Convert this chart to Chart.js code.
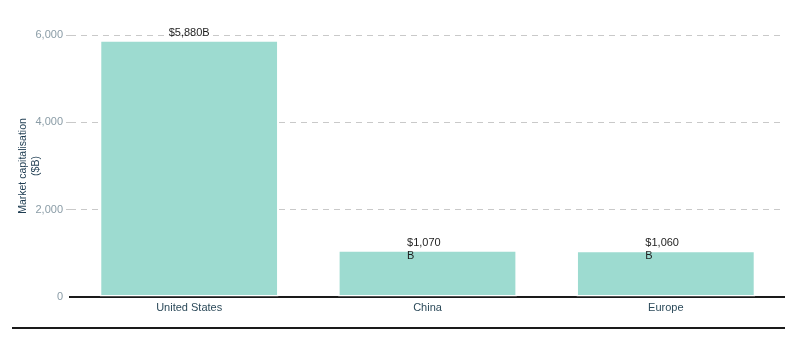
<!DOCTYPE html>
<html>
<head>
<meta charset="utf-8">
<style>
  html, body { margin: 0; padding: 0; background: #fff; }
  #wrap { width: 794px; height: 338px; position: relative; }
</style>
<script src="https://cdn.jsdelivr.net/npm/chart.js@4/dist/chart.umd.min.js"></script>
</head>
<body>
<div id="wrap"><canvas id="c" width="794" height="338"></canvas></div>
<script>
// Market capitalisation by region, in billions of US dollars
const regions = ['United States', 'China', 'Europe'];
const marketCap = [5880, 1070, 1060];
const yTicks = [0, 2000, 4000, 6000];
// value labels whose unit suffix wraps onto a second line
const wrapSuffix = [false, true, true];

const FONT = '"Liberation Sans", Arial, sans-serif';

const fmt = v => v.toLocaleString('en-US');

// baseline at zero, drawn under the bars
const zeroLine = {
  id: 'zeroLine',
  beforeDatasetsDraw(chart) {
    const { ctx, chartArea, scales } = chart;
    const y = scales.y.getPixelForValue(0);
    ctx.save();
    ctx.strokeStyle = '#1a1a1a';
    ctx.lineWidth = 2;
    ctx.beginPath();
    ctx.moveTo(chartArea.left - 1, y);
    ctx.lineTo(chartArea.right, y);
    ctx.stroke();
    ctx.restore();
  }
};

// value labels above the bars and the rule under the chart
const valueLabels = {
  id: 'valueLabels',
  afterDatasetsDraw(chart) {
    const { ctx } = chart;
    const meta = chart.getDatasetMeta(0);
    ctx.save();
    ctx.font = '11px ' + FONT;
    ctx.fillStyle = '#1e1e1e';
    ctx.textBaseline = 'bottom';
    meta.data.forEach((bar, i) => {
      const v = marketCap[i];
      const full = '$' + fmt(v) + 'B';
      const top = bar.y - 2;
      if (wrapSuffix[i]) {
        // the text box keeps the width of the full label, lines left-aligned
        const w = ctx.measureText(full).width;
        const x0 = bar.x - w / 2;
        ctx.textAlign = 'left';
        ctx.fillText('$' + fmt(v), x0, top);
        ctx.fillText('B', x0, top + 13);
      } else {
        ctx.textAlign = 'center';
        ctx.fillText(full, bar.x, top);
      }
    });
    ctx.restore();
  },
  afterDraw(chart) {
    const { ctx, chartArea } = chart;
    ctx.save();
    ctx.strokeStyle = '#1a1a1a';
    ctx.lineWidth = 2;
    ctx.beginPath();
    ctx.moveTo(12, 328);
    ctx.lineTo(chartArea.right, 328);
    ctx.stroke();
    ctx.restore();
  }
};

new Chart(document.getElementById('c'), {
  type: 'bar',
  data: {
    labels: regions,
    datasets: [{
      data: marketCap,
      backgroundColor: '#9ddbd0',
      borderColor: '#ffffff',
      borderWidth: 1.5,
      borderSkipped: false,
      barPercentage: 0.75,
      categoryPercentage: 1
    }]
  },
  options: {
    responsive: false,
    animation: false,
    devicePixelRatio: 1,
    layout: { padding: { top: 35, right: 9, bottom: 0, left: 17 } },
    plugins: { legend: { display: false }, tooltip: { enabled: false } },
    scales: {
      x: {
        grid: { display: false },
        border: { display: false },
        ticks: { color: '#2c4a5a', font: { family: FONT, size: 11 }, padding: -4 },
        afterFit(scale) { scale.height = 41; }
      },
      y: {
        min: 0,
        max: 6000,
        afterBuildTicks(scale) { scale.ticks = yTicks.map(v => ({ value: v })); },
        grid: {
          color: ctx => ctx.tick && ctx.tick.value === 0 ? 'rgba(0,0,0,0)' : '#c9c9c9',
          lineWidth: 1,
          drawTicks: true,
          tickLength: 4
        },
        border: { display: false, dash: [6, 5] },
        ticks: {
          color: '#8a9ca6',
          font: { family: FONT, size: 11 },
          padding: 3,
          callback: v => fmt(v)
        },
        title: {
          display: true,
          text: ['Market capitalisation', '($B)'],
          color: '#1f3d52',
          font: { family: FONT, size: 10.5 },
          padding: 0
        },
        afterFit(scale) { scale.width = 53; }
      }
    }
  },
  plugins: [zeroLine, valueLabels]
});
</script>
</body>
</html>
